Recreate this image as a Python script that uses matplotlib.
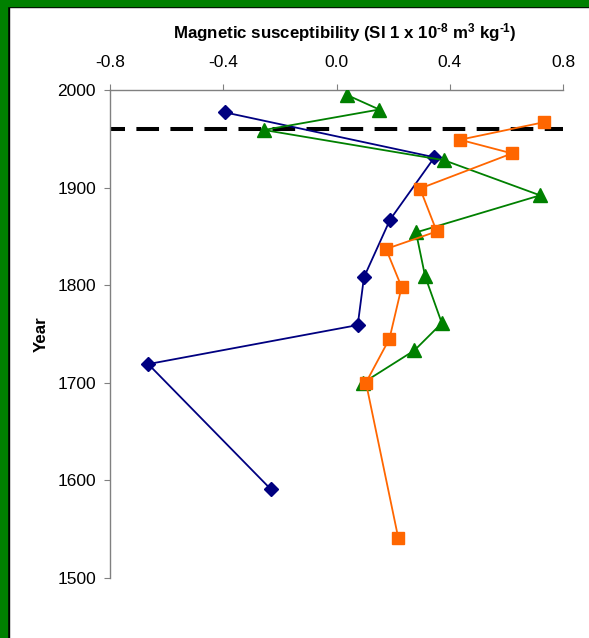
import matplotlib
matplotlib.use("Agg")
import matplotlib.pyplot as plt
from matplotlib.patches import Rectangle

plt.rcParams['font.family'] = ['Liberation Sans', 'DejaVu Sans']
plt.rcParams['mathtext.fontset'] = 'custom'
plt.rcParams['mathtext.rm'] = 'Liberation Sans:bold'
plt.rcParams['mathtext.it'] = 'Liberation Sans:bold'
plt.rcParams['mathtext.bf'] = 'Liberation Sans:bold'
plt.rcParams['lines.scale_dashes'] = False

# series 1 (navy diamonds)
blue_x = [-0.393, 0.346, 0.189, 0.097, 0.075, -0.665, -0.233]
blue_year = [1977, 1931, 1867, 1808, 1759, 1719, 1591]

# series 2 (green triangles)
green_x = [0.036, 0.151, -0.256, 0.380, 0.719, 0.281, 0.313, 0.372, 0.275, 0.095]
green_year = [1995, 1980, 1959, 1928, 1892, 1854, 1809, 1761, 1733, 1700]

# series 3 (orange squares)
orange_x = [0.733, 0.436, 0.620, 0.295, 0.354, 0.175, 0.230, 0.187, 0.104, 0.218]
orange_year = [1967, 1949, 1935, 1899, 1855, 1837, 1798, 1745, 1700, 1541]

marker_year = 1960
x_ticks = [-0.8, -0.4, 0.0, 0.4, 0.8]
y_ticks = [1500, 1600, 1700, 1800, 1900, 2000]

W, H = 589, 638
fig = plt.figure(figsize=(W / 100, H / 100), dpi=100)
ax = fig.add_axes([110 / W, 60.3 / H, 453 / W, 487.7 / H])

# green frame on left and top edges
fig.patches.append(Rectangle((0, 0), 8.7 / W, 1, transform=fig.transFigure, color='black', zorder=0))
fig.patches.append(Rectangle((0, 1 - 7 / H), 1, 7 / H, transform=fig.transFigure, color='black', zorder=0))
fig.patches.append(Rectangle((0, 0), 7.3 / W, 1, transform=fig.transFigure, color='#008000', zorder=1))
fig.patches.append(Rectangle((0, 1 - 5.7 / H), 1, 5.7 / H, transform=fig.transFigure, color='#008000', zorder=1))

ax.axhline(marker_year, color='black', lw=2.9, linestyle=(5.5, (16.3, 8.2)), zorder=1)

ax.plot(blue_x, blue_year, color='#000080', lw=1.3, marker='D', ms=7, zorder=2)
ax.plot(green_x, green_year, color='#008000', lw=1.3, marker='^', ms=9.5, zorder=3)
ax.plot(orange_x, orange_year, color='#FF6600', lw=1.3, marker='s', ms=9, zorder=4)

ax.set_xlim(-0.8, 0.8)
ax.set_ylim(1500, 2000)
ax.set_xticks(x_ticks)
ax.set_xticklabels([f'{t:.1f}' for t in x_ticks])
ax.set_yticks(y_ticks)

ax.xaxis.tick_top()
ax.xaxis.set_label_position('top')
for s in ['right', 'bottom']:
    ax.spines[s].set_visible(False)
for s in ['left', 'top']:
    ax.spines[s].set_color('#808080')
    ax.spines[s].set_linewidth(1.0)
ax.tick_params(axis='x', direction='out', length=4, color='#808080', labelsize=12.5, pad=10.5)
ax.tick_params(axis='y', direction='out', length=4, color='#808080', labelsize=12.5, pad=6)

ax.set_xlabel('Magnetic susceptibility (SI 1 x 10$^{\u20108}$ m$^{3}$ kg$^{\u20101}$)',
              fontsize=12.2, fontweight='bold')
ax.xaxis.set_label_coords(0.519, 1.106)
ax.set_ylabel('Year', fontsize=12.2, fontweight='bold')
ax.yaxis.set_label_coords(-0.136, 0.5)

fig.savefig('out.png', dpi=100)
